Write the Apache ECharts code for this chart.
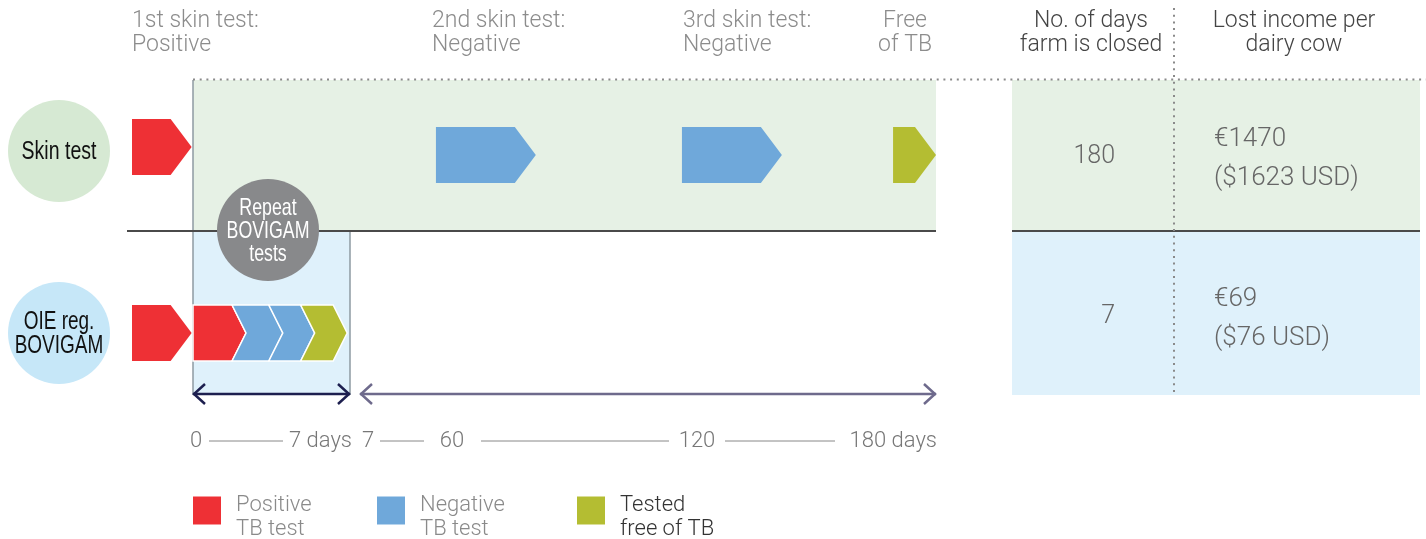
<!DOCTYPE html>
<html>
<head>
  <meta charset="utf-8">
  <script src="https://cdn.jsdelivr.net/npm/echarts@6/dist/echarts.min.js"></script>
  <style>
    html, body { margin: 0; background: #fff; }
    #main { width: 1426px; height: 539px; }
  </style>
  <title>Skin test vs BOVIGAM</title>
</head>
<body>
<div id="main"></div>
<script type="text/javascript">

  const rowNames = ['Skin test', 'OIE reg.\nBOVIGAM'];
  const results = ['Positive\nTB test', 'Negative\nTB test', 'Tested\nfree of TB'];
  const resultColors = ['#ee3035', '#6fa8da', '#b4bd32'];
  // first positive test, [row, from, to] in days on the short 0-7 day scale
  const firstPositive = [[0, -2.72, -0.06], [1, -2.72, -0.06]];
  // repeat BOVIGAM tests, [from, to, result]
  const bovigamTests = [[0, 1.74, 0], [1.74, 3.38, 1], [3.38, 4.80, 1], [4.80, 6.25, 2]];
  // skin re-tests, [from, to, result] on the 7-180 day scale
  const skinTests = [[29.8, 59.8, 1], [103.7, 133.7, 1], [167.1, 180, 2]];
  const periods = [[0, 7], [7, 180]];
  const stepLabels = ['1st skin test:\nPositive', '2nd skin test:\nNegative', '3rd skin test:\nNegative', 'Free\nof TB'];
  const dayLabels = ['0', '7 days', '7', '60', '120', '180 days'];
  const tableHeads = ['No. of days\nfarm is closed', 'Lost income per\ndairy cow'];
  const daysClosed = [180, 7];
  const lostEur = [1470, 69];
  const lostUsd = [1623, 76];

  const LIGHT = "Roboto, 'Helvetica Neue', sans-serif";
  const SANS = "'Liberation Sans', Arial, sans-serif";
  const H = 28;              // half height of the test arrows
  const firstLift = [-8, 0]; // the first skin arrow sits a bit higher

  function arrowRender(lift) {
    return function (params, api) {
      const row = api.value(0);
      const x0 = api.coord([api.value(1), row])[0];
      const p1 = api.coord([api.value(2), row]);
      const x1 = p1[0];
      const y = p1[1] + (lift ? lift[row] : 0);
      return {
        type: 'polygon',
        shape: { points: [[x0, y - H], [x1 - 21, y - H], [x1, y], [x1 - 21, y + H], [x0, y + H]] },
        style: { fill: api.visual('color') }
      };
    };
  }

  function chevronRender(params, api) {
    const row = api.value(0);
    const from = api.value(1);
    const x0 = api.coord([from, row])[0];
    const p1 = api.coord([api.value(2), row]);
    const x1 = p1[0], y = p1[1];
    const pts = [[x0, y - H], [x1, y - H], [x1 + 14, y], [x1, y + H], [x0, y + H]];
    if (from > 0) pts.push([x0 + 14, y]);
    return {
      type: 'polygon',
      shape: { points: pts },
      style: { fill: api.visual('color'), stroke: '#fff', lineWidth: 1.5 }
    };
  }

  function periodRender(color) {
    return function (params, api) {
      const p0 = api.coord([api.value(0), 1]);
      const x0 = p0[0], y = p0[1] + 61;
      const x1 = api.coord([api.value(1), 1])[0];
      const st = { stroke: color, lineWidth: 2.5, fill: null };
      return {
        type: 'group',
        children: [
          { type: 'line', shape: { x1: x0, y1: y, x2: x1, y2: y }, style: st },
          { type: 'polyline', shape: { points: [[x0 + 12, y - 10], [x0 + 1, y], [x0 + 12, y + 10]] }, style: st },
          { type: 'polyline', shape: { points: [[x1 - 12, y - 10], [x1 - 1, y], [x1 - 12, y + 10]] }, style: st }
        ]
      };
    };
  }

  function txt(x, y, text, font, fill, align, lh, z) {
    return {
      type: 'text', x: x, y: y, z: z || 10,
      style: { text: text, font: font, fill: fill, textAlign: align || 'left', textVerticalAlign: 'middle', lineHeight: lh || 24 }
    };
  }
  // condensed label: regular sans squeezed horizontally
  function narrow(x, y, text, size, fill, lh, sx) {
    const t = txt(x, y, text, size + 'px ' + SANS, fill, 'center', lh, 11);
    t.scaleX = sx;
    return t;
  }
  function rect(x, y, w, h, fill, z) {
    return { type: 'rect', z: z || 0, shape: { x: x, y: y, width: w, height: h }, style: { fill: fill } };
  }
  function line(x1, y1, x2, y2, stroke, w, dash, z) {
    return { type: 'line', z: z || 1, shape: { x1: x1, y1: y1, x2: x2, y2: y2 },
      style: { stroke: stroke, lineWidth: w, lineDash: dash || null } };
  }
  function circle(cx, cy, r, fill) {
    return { type: 'circle', z: 5, shape: { cx: cx, cy: cy, r: r }, style: { fill: fill } };
  }

  function build() {
    const g = [];
    // bands
    g.push(rect(193, 80, 743, 151, '#e6f1e5'));
    g.push(rect(193, 231, 157, 164, '#dff1fb'));
    g.push(rect(1012, 80, 408, 151, '#e6f1e5'));
    g.push(rect(1012, 231, 408, 164, '#dff1fb'));
    g.push(line(193, 80, 193, 395, '#8e9aa2', 1.5));
    g.push(line(350, 231, 350, 395, '#8e9aa2', 1.5));
    g.push(line(127, 231, 936, 231, '#4a4a4a', 2));
    g.push(line(1012, 231, 1420, 231, '#4a4a4a', 2));
    g.push(line(193, 79.5, 1426, 79.5, '#8a8a8a', 2, [2, 4.7]));
    g.push(line(1174, 8, 1174, 395, '#8a8a8a', 2, [2, 4.7]));

    // row circles
    g.push(circle(59, 151, 51, '#d6e9d3'));
    g.push(narrow(59, 152, rowNames[0], 25, '#111', 24, 0.78));
    g.push(circle(59, 333, 51, '#c6e7f8'));
    g.push(narrow(59, 334, rowNames[1], 25, '#111', 24, 0.76));
    g.push(circle(268, 230, 51, '#88898b'));
    g.push(narrow(268, 231, 'Repeat\nBOVIGAM\ntests', 24, '#fff', 23, 0.74));

    // step headers
    const f23 = '300 23px ' + LIGHT;
    g.push(txt(132, 33, stepLabels[0], f23, '#8c8c8c'));
    g.push(txt(432, 33, stepLabels[1], f23, '#8c8c8c'));
    g.push(txt(683, 33, stepLabels[2], f23, '#8c8c8c'));
    g.push(txt(905, 33, stepLabels[3], f23, '#8c8c8c', 'center'));
    g.push(txt(1091, 33, tableHeads[0], f23, '#444', 'center'));
    g.push(txt(1294, 33, tableHeads[1], f23, '#444', 'center'));

    // table values
    const f25 = '300 25px ' + LIGHT;
    const rowY = [157, 317];
    for (let i = 0; i < 2; i++) {
      g.push(txt(1115, rowY[i], String(daysClosed[i]), f25, '#666', 'right'));
      g.push(txt(1214, rowY[i] + 2, '€' + lostEur[i] + '\n($' + lostUsd[i] + ' USD)', '300 26px ' + LIGHT, '#666', 'left', 39));
    }

    // day scale under the arrows
    const f22 = '300 22px ' + LIGHT;
    const dy = 441;
    g.push(txt(196, dy, dayLabels[0], f22, '#777', 'center'));
    g.push(txt(352, dy, dayLabels[1], f22, '#777', 'right'));
    g.push(txt(362, dy, dayLabels[2], f22, '#777', 'left'));
    g.push(txt(452, dy, dayLabels[3], f22, '#777', 'center'));
    g.push(txt(697, dy, dayLabels[4], f22, '#777', 'center'));
    g.push(txt(937, dy, dayLabels[5], f22, '#777', 'right'));
    [[209, 283], [380, 424], [481, 669], [725, 835]].forEach(function (s) {
      g.push(line(s[0], dy, s[1], dy, '#888', 1));
    });
    return g;
  }

  const gA = { xAxisIndex: 0, yAxisIndex: 0 };
  const gB = { xAxisIndex: 1, yAxisIndex: 1 };
  const legendLeft = [193, 377, 577];

  const series = [];
  series.push(Object.assign({ type: 'custom', name: results[0], renderItem: arrowRender(firstLift),
    data: firstPositive, itemStyle: { color: resultColors[0] }, z: 3 }, gA));
  [0, 1, 2].forEach(function (r) {
    series.push(Object.assign({ type: 'custom', name: results[r], renderItem: chevronRender,
      data: bovigamTests.filter(function (d) { return d[2] === r; }).map(function (d) { return [1, d[0], d[1]]; }),
      itemStyle: { color: resultColors[r] }, z: 3 }, gA));
  });
  [1, 2].forEach(function (r) {
    series.push(Object.assign({ type: 'custom', name: results[r], renderItem: arrowRender(null),
      data: skinTests.filter(function (d) { return d[2] === r; }).map(function (d) { return [0, d[0], d[1]]; }),
      itemStyle: { color: resultColors[r] }, z: 3 }, gB));
  });
  series.push(Object.assign({ type: 'custom', renderItem: periodRender('#1d1f4f'), data: [periods[0]], z: 3 }, gA));
  series.push(Object.assign({ type: 'custom', renderItem: periodRender('#6e6a8c'), data: [periods[1]], z: 3 }, gB));

  const chart = echarts.init(document.getElementById('main'));
  chart.setOption({
    animation: false,
    backgroundColor: '#fff',
    grid: [
      { left: 193, top: 155, width: 157, height: 178 },
      { left: 360, top: 155, width: 576, height: 178 }
    ],
    xAxis: [
      { gridIndex: 0, type: 'value', min: 0, max: 7, show: false },
      { gridIndex: 1, type: 'value', min: 7, max: 180, show: false }
    ],
    yAxis: [
      { gridIndex: 0, type: 'value', min: 0, max: 1, inverse: true, show: false },
      { gridIndex: 1, type: 'value', min: 0, max: 1, inverse: true, show: false }
    ],
    legend: results.map(function (name, i) {
      const color = i === 2 ? '#333' : '#8a8a8a';
      return {
        data: [name], left: legendLeft[i], top: 480, padding: 0,
        itemWidth: 28, itemHeight: 28, icon: 'rect', selectedMode: false,
        // a short spacer line pushes the two text lines a little below the swatch centre
        formatter: function (n) { return '{s| }\n{t|' + n.split('\n').join('}\n{t|') + '}'; },
        textStyle: {
          padding: [0, 0, 0, 10],
          rich: {
            s: { fontSize: 10, lineHeight: 13, height: 13 },
            t: { fontFamily: LIGHT, fontWeight: 300, fontSize: 22, lineHeight: 24, color: color }
          }
        }
      };
    }),
    graphic: { elements: build() },
    series: series
  });
</script>
</body>
</html>
